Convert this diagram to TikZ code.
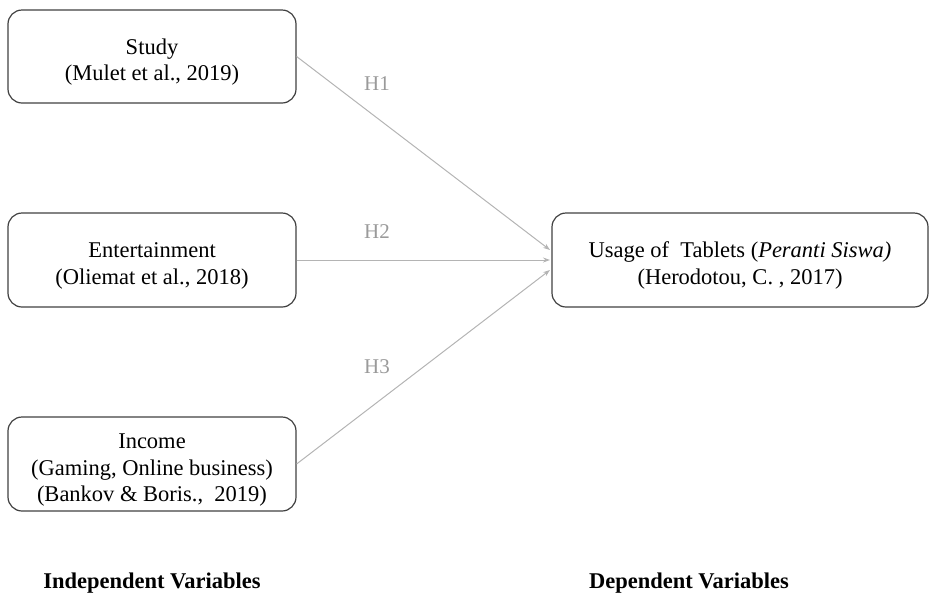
\documentclass[tikz,border=0pt]{standalone}
\usepackage{fontspec}
\setmainfont{Liberation Serif}
\usetikzlibrary{arrows.meta}
\definecolor{boxline}{HTML}{404040}
\definecolor{linkgray}{HTML}{B4B4B4}
\definecolor{labelgray}{HTML}{9A9A9A}
% invisible strut that lowers the text block a little inside its box
\newcommand{\topgap}{\rule{0pt}{27pt}}
\begin{document}
\begin{tikzpicture}[x=1pt,y=-1pt,
  varbox/.style={draw=boxline, line width=1.2pt, rounded corners=14pt, align=center,
    font=\fontsize{22.5}{26.5}\selectfont, inner sep=0pt},
  link/.style={draw=linkgray, line width=1pt, -{Stealth[length=7pt,width=5pt]}},
  hyp/.style={text=labelgray, font=\fontsize{21}{24}\selectfont},
  caption/.style={font=\fontsize{22.5}{26}\selectfont\bfseries}]
\useasboundingbox (0,0) rectangle (931,603);
% independent variables
\node[varbox, minimum width=288pt, minimum height=93pt] (study) at (152,56.5)
  {\topgap Study\\(Mulet et al., 2019)};
\node[varbox, minimum width=288pt, minimum height=94pt] (ent) at (152,260)
  {\topgap Entertainment\\(Oliemat et al., 2018)};
\node[varbox, minimum width=288pt, minimum height=94pt] (inc) at (152,464)
  {\topgap Income\\(Gaming, Online business)\\(Bankov \& Boris.,\ \ 2019)};
% dependent variable
\node[varbox, minimum width=376pt, minimum height=94pt] (use) at (740,260)
  {\topgap Usage of\ \ Tablets (\textit{Peranti Siswa)}\\(Herodotou, C. , 2017)};
% hypothesised paths
\coordinate (t1) at (550,250);
\coordinate (t2) at (550,260);
\coordinate (t3) at (550,270);
\draw[link] (study.east) -- (t1);
\draw[link] (ent.east) -- (t2);
\draw[link] (inc.east) -- (t3);
\node[hyp] (h1) at (377,84) {H1};
\node[hyp] (h2) at (377,232) {H2};
\node[hyp] (h3) at (377,367) {H3};
% column captions
\node[caption] (indep) at (152,583) {Independent Variables};
\node[caption] (dep) at (689,583) {Dependent Variables};
\end{tikzpicture}
\end{document}
